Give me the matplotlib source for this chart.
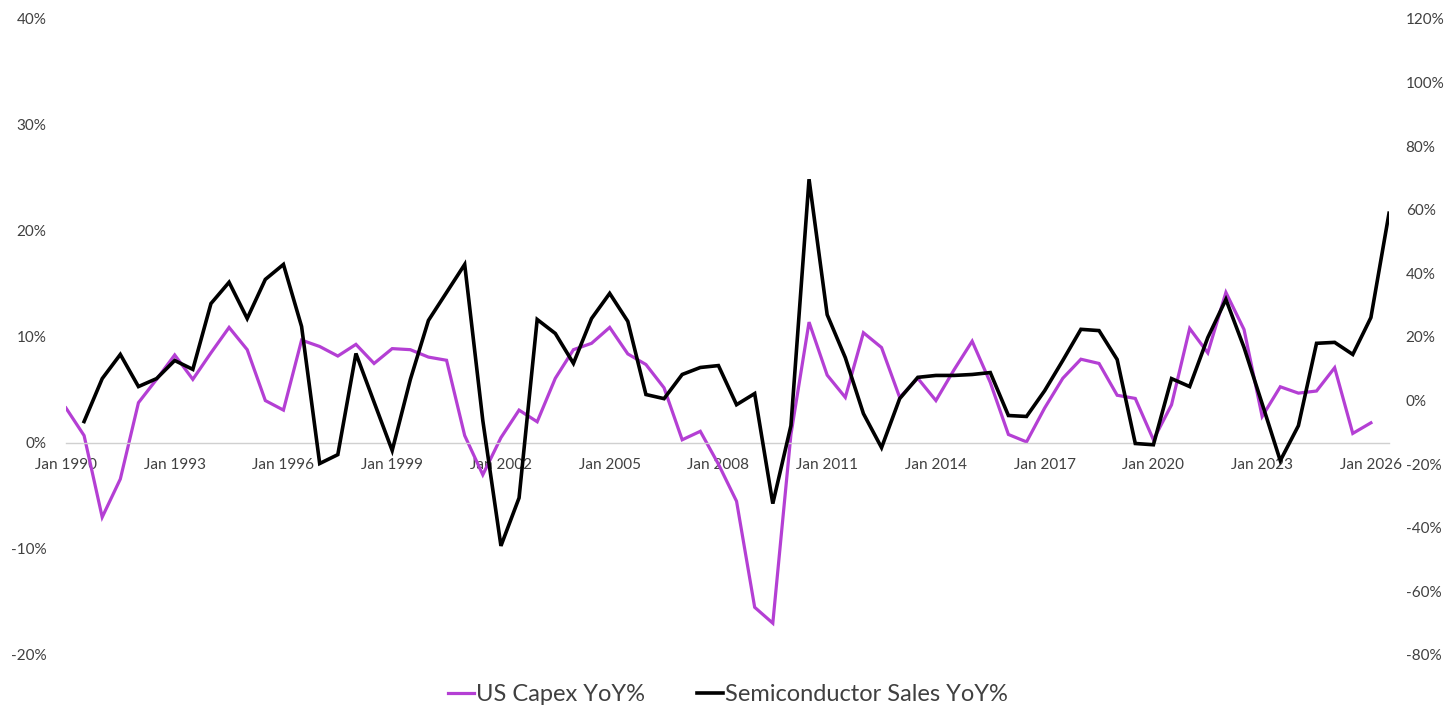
import numpy as np
import matplotlib.pyplot as plt

plt.rcParams['font.family'] = ['Lato', 'DejaVu Sans']

# half-yearly points, Jan 1990 .. Jul 2026
periods = np.arange(74)
tick_idx = list(range(0, 73, 6))
tick_labels = ["Jan %d" % (1990 + 3 * k) for k in range(len(tick_idx))]

capex_yoy = [
    3.3, 0.7, -7.0, -3.4, 3.8, 6.0, 8.3, 6.0, 8.5, 10.9,
    8.8, 4.0, 3.1, 9.7, 9.1, 8.2, 9.3, 7.5, 8.9, 8.8,
    8.1, 7.8, 0.7, -3.0, 0.5, 3.1, 2.0, 6.1, 8.8, 9.4,
    10.9, 8.4, 7.4, 5.2, 0.3, 1.1, -2.0, -5.5, -15.5, -17.0,
    0.8, 11.4, 6.4, 4.3, 10.4, 9.0, 4.3, 6.1, 4.0, 6.9,
    9.6, 5.7, 0.8, 0.1, 3.3, 6.1, 7.9, 7.5, 4.5, 4.2,
    0.3, 3.6, 10.8, 8.5, 14.2, 10.7, 2.5, 5.3, 4.7, 4.9,
    7.1, 0.9, 1.9, np.nan,
]

semi_yoy = [
    np.nan, -6.6, 6.9, 14.5, 4.4, 6.9, 12.6, 9.8, 30.5, 37.2,
    25.8, 38.1, 42.8, 23.3, -19.8, -17.0, 14.8, -0.5, -15.7, 6.6,
    25.2, 34.0, 42.8, -6.3, -45.7, -30.6, 25.5, 21.1, 11.7, 25.8,
    33.7, 24.9, 1.9, 0.6, 8.2, 10.4, 11.0, -1.3, 2.2, -32.4,
    -7.9, 69.6, 27.0, 13.5, -4.1, -14.8, 0.6, 7.3, 7.9, 7.9,
    8.2, 8.8, -4.7, -5.0, 3.1, 12.6, 22.4, 22.0, 12.9, -13.5,
    -13.9, 6.9, 4.4, 19.8, 31.8, 16.7, -1.0, -18.9, -7.9, 18.0,
    18.3, 14.5, 26.1, 58.9,
]

purple = '#B43FD4'
text_col = '#404040'

fig = plt.figure(figsize=(14.56, 7.28), dpi=100)
ax = fig.add_axes([0.0453, 0.1003, 0.9087, 0.8737])
ax2 = ax.twinx()

l1, = ax.plot(periods, capex_yoy, color=purple, lw=2.3, solid_joinstyle='miter')
l2, = ax2.plot(periods, semi_yoy, color='black', lw=2.6, solid_joinstyle='miter')

ax.set_xlim(0, 73)
ax.set_ylim(-20, 40)
ax2.set_ylim(-80, 120)

ax.set_yticks(np.arange(-20, 41, 10))
ax.set_yticklabels(["%d%%" % v for v in range(-20, 41, 10)])
ax2.set_yticks(np.arange(-80, 121, 20))
ax2.set_yticklabels(["%d%%" % v for v in range(-80, 121, 20)])

ax.set_xticks(tick_idx)
ax.set_xticklabels(tick_labels)

for a in (ax, ax2):
    for s in a.spines.values():
        s.set_visible(False)
    a.tick_params(length=0, labelsize=11, labelcolor=text_col)

ax.spines['bottom'].set_visible(True)
ax.spines['bottom'].set_position(('data', 0))
ax.spines['bottom'].set_color('#d0d0d0')
ax.spines['bottom'].set_linewidth(1)
ax.tick_params(axis='x', pad=11)
ax.tick_params(axis='y', pad=14)
ax2.tick_params(axis='y', pad=12)

fig.legend([l1, l2], ['US Capex YoY%', 'Semiconductor Sales YoY%'],
           loc='center', bbox_to_anchor=(0.5, 0.046), ncol=2, frameon=False,
           fontsize=17, handlelength=1.1, handletextpad=0.1, columnspacing=2.2,
           labelcolor=text_col)

fig.savefig('out.png', dpi=100)
